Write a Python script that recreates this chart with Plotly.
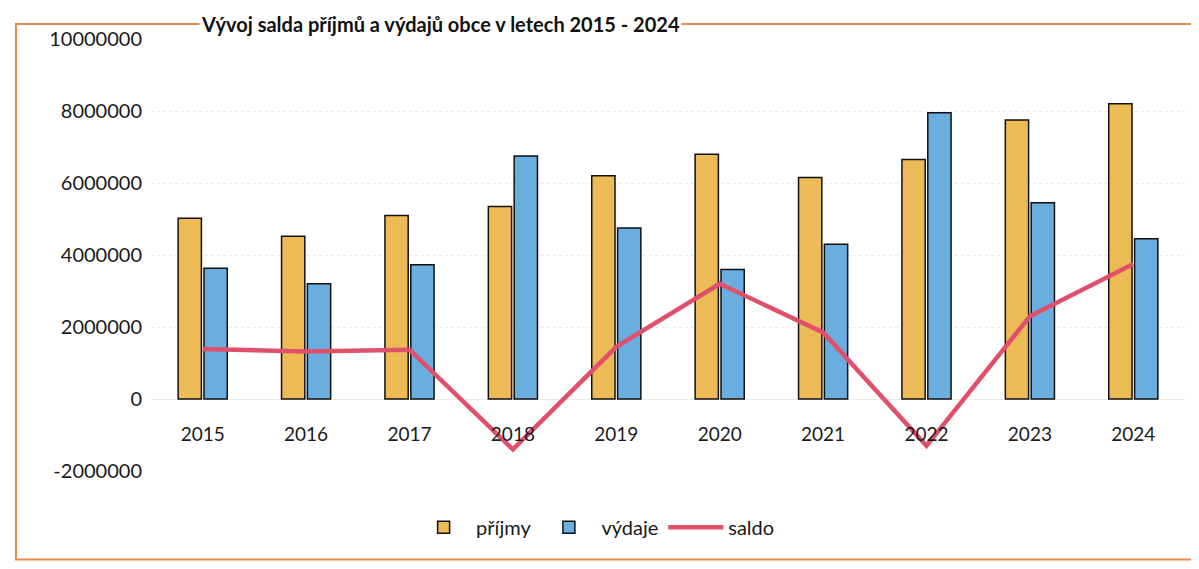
import plotly.graph_objects as go

roky = ["2015", "2016", "2017", "2018", "2019", "2020", "2021", "2022", "2023", "2024"]
prijmy = [5020000, 4520000, 5100000, 5350000, 6200000, 6800000, 6150000, 6650000, 7750000, 8200000]
vydaje = [3630000, 3200000, 3730000, 6750000, 4750000, 3600000, 4300000, 7950000, 5450000, 4450000]
saldo = [1390000, 1320000, 1370000, -1400000, 1450000, 3200000, 1850000, -1300000, 2300000, 3750000]
y_ticks = [-2000000, 0, 2000000, 4000000, 6000000, 8000000, 10000000]
y_labels = ["-2000000", "0", "2000000", "4000000", "6000000", "8000000", "10000000"]

font = "Lato, 'Open Sans', sans-serif"

fig = go.Figure()
fig.add_trace(go.Bar(
    x=roky, y=prijmy, name="příjmy",
    marker={"color": "#EDBB55", "line": {"color": "#111111", "width": 1.5}},
))
fig.add_trace(go.Bar(
    x=roky, y=vydaje, name="výdaje",
    marker={"color": "#6AAEE0", "line": {"color": "#111111", "width": 1.5}},
))
fig.add_trace(go.Scatter(
    x=roky, y=saldo, name="saldo", mode="lines",
    line={"color": "#E0506A", "width": 4.5},
))

fig.update_layout(
    width=1199, height=569,
    margin={"l": 143, "r": 22, "t": 31, "b": 106},
    paper_bgcolor="white", plot_bgcolor="white",
    font={"family": font, "size": 20, "color": "#1a1a1a"},
    barmode="group", bargap=0.5, bargroupgap=0.1,
    showlegend=True,
    legend={
        "orientation": "h", "x": 0.43, "xanchor": "center",
        "y": -0.13, "yanchor": "middle", "font": {"size": 20},
        "itemwidth": 55, "tracegroupgap": 0,
    },
    annotations=[{
        "text": "<b>Vývoj salda příjmů a výdajů obce v letech 2015 - 2024</b>",
        "xref": "paper", "yref": "paper", "x": 0.2795, "y": 1.035,
        "xanchor": "center", "yanchor": "middle", "showarrow": False,
        "font": {"size": 20, "color": "#111111"}, "bgcolor": "white",
    }],
    shapes=[{
        "type": "rect", "xref": "paper", "yref": "paper", "layer": "below",
        "x0": -0.1306, "x1": 1.0184, "y0": -0.205, "y1": 1.035,
        "line": {"color": "#E8894A", "width": 2},
    }],
)
fig.update_xaxes(
    type="category", anchor="free", position=1 / 6, automargin=False,
    showgrid=False, showline=False, ticks="",
    ticklabelstandoff=22, tickfont={"size": 19},
)
fig.update_yaxes(
    range=[-2000000, 10000000], tickvals=y_ticks, ticktext=y_labels,
    automargin=False,
    showgrid=True, gridcolor="#ececec", griddash="dot",
    zeroline=True, zerolinecolor="#ececec", zerolinewidth=1,
    showline=False, ticks="", ticklabelstandoff=8,
)

fig.write_html("out.html")
